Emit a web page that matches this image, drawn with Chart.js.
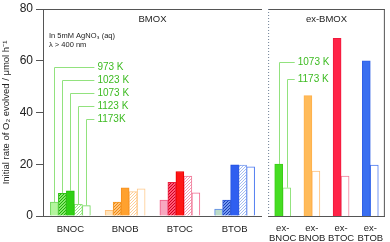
<!DOCTYPE html>
<html lang="en">
<head>
    <meta charset="UTF-8">
    <title>O2 evolution rates</title>
    <script src="https://cdn.jsdelivr.net/npm/chart.js"></script>
    <style>
        body { margin: 0; background: #fff; }
        #wrap { position: relative; width: 390px; height: 242px; }
        #leftChart { position: absolute; left: 0; top: 0; }
        #rightChart { position: absolute; left: 262px; top: 0; }
    </style>
</head>
<body>
    <div id="wrap">
        <canvas id="leftChart" width="262" height="242"></canvas>
        <canvas id="rightChart" width="128" height="242"></canvas>
    </div>

    <script>
        // BMOX samples calcined at five temperatures
        const categories = ['BNOC', 'BNOB', 'BTOC', 'BTOB'];
        const temps = ['973 K', '1023 K', '1073 K', '1123 K', '1173K'];
        const rate973 = [5.4, 2.2, 6.2, 2.7];
        const rate1023 = [8.8, 5.4, 13.0, 6.2];
        const rate1073 = [9.7, 10.9, 17.2, 19.8];
        const rate1123 = [4.5, 9.4, 15.4, 19.7];
        const rate1173 = [4.0, 10.5, 9.0, 19.0];

        // exfoliated samples, two temperatures
        const exCategories = [['ex-', 'BNOC'], ['ex-', 'BNOB'], ['ex-', 'BTOC'], ['ex-', 'BTOB']];
        const exTemps = ['1073 K', '1173 K'];
        const exRate1073 = [20.1, 46.5, 68.7, 60.0];
        const exRate1173 = [10.9, 17.4, 15.4, 19.7];

        const yTicks = [0, 20, 40, 60, 80];

        Chart.defaults.font.family = '"Liberation Sans", Arial, sans-serif';
        Chart.defaults.color = '#222';

        function pattern(kind, fg, bg) {
            const c = document.createElement('canvas');
            c.width = c.height = 3;
            const g = c.getContext('2d');
            g.fillStyle = bg;
            g.fillRect(0, 0, 3, 3);
            g.fillStyle = fg;
            if (kind === 'hatch') {
                g.fillRect(0, 2, 1, 1); g.fillRect(1, 1, 1, 1); g.fillRect(2, 0, 1, 1);
            } else {
                g.fillRect(0, 0, 1, 1); g.fillRect(2, 1, 1, 1); g.fillRect(1, 2, 1, 1);
            }
            return g.createPattern(c, 'repeat');
        }

        // one style per temperature, one colour per compound
        const styles = [
            { bg: ['#b4f59e', '#ffe2b8', '#f7a8c0', '#bcdcc8'], bd: ['#6fd65a', '#ffbf78', '#ee5c86', '#5a88e8'] },
            { bg: [pattern('hatch', '#1fae08', '#86e86c'), pattern('hatch', '#ee8a10', '#ffc27a'), pattern('hatch', '#d00020', '#ff5a78'), pattern('hatch', '#1a3cb4', '#7399f0')],
              bd: ['#2cbf12', '#f5961e', '#e8203c', '#2a55d8'] },
            { bg: ['#2ed012', '#ffa12e', '#ff1515', '#2f5ff0'], bd: ['#22b80a', '#f59020', '#e80000', '#2050e0'] },
            { bg: [pattern('dot', '#9de68a', '#ffffff'), pattern('dot', '#ffcf96', '#ffffff'), pattern('dot', '#f49ab4', '#ffffff'), pattern('dot', '#a4bdf2', '#ffffff')],
              bd: ['#8fe27a', '#ffc888', '#f07a98', '#7a9cf0'] },
            { bg: ['#ffffff', '#ffffff', '#ffffff', '#ffffff'], bd: ['#6fd65a', '#ffc888', '#f06a8e', '#4a78f0'] }
        ];
        const exStyles = [
            { bg: ['#46dd22', '#ffbb5a', '#ff2448', '#3a6ff0'], bd: ['#3ccc18', '#ffb04a', '#f01a3c', '#2f60e6'] },
            { bg: ['#ffffff', '#ffffff', '#ffffff', '#ffffff'], bd: ['#8fe27a', '#ffc07a', '#f0809a', '#4a78f0'] }
        ];

        const leaderLine = '#92e27e';
        const leaderText = '#3dbb22';
        const frame = '#555';

        // leader lines from bars of the first group to the temperature labels
        function leaders(levels, labels) {
            return {
                id: 'leaders',
                afterDatasetsDraw(chart) {
                    const ctx = chart.ctx;
                    const y = chart.scales.y;
                    const n = chart.data.datasets.length;
                    const last = chart.getDatasetMeta(n - 1).data[0];
                    const xEnd = last.x + last.width / 2 + 4;
                    ctx.save();
                    ctx.font = '10px "Liberation Sans", Arial, sans-serif';
                    ctx.textBaseline = 'middle';
                    labels.forEach((t, i) => {
                        const bar = chart.getDatasetMeta(i).data[0];
                        const ly = Math.round(y.getPixelForValue(levels[i])) + 0.5;
                        const lx = Math.round(bar.x) + 0.5;
                        ctx.strokeStyle = leaderLine;
                        ctx.lineWidth = 1;
                        ctx.beginPath();
                        ctx.moveTo(lx, bar.y);
                        ctx.lineTo(lx, ly);
                        ctx.lineTo(xEnd, ly);
                        ctx.stroke();
                        ctx.fillStyle = leaderText;
                        ctx.fillText(t, xEnd + 3, ly);
                    });
                    ctx.restore();
                }
            };
        }

        function header(text, extra) {
            return {
                id: 'header',
                afterDraw(chart) {
                    const ctx = chart.ctx;
                    const a = chart.chartArea;
                    ctx.save();
                    ctx.strokeStyle = frame;
                    ctx.lineWidth = 1;
                    ctx.beginPath();
                    ctx.moveTo(a.left, a.top + 0.5);
                    ctx.lineTo(a.right, a.top + 0.5);
                    ctx.stroke();
                    ctx.fillStyle = '#222';
                    ctx.font = '9.5px "Liberation Sans", Arial, sans-serif';
                    ctx.textAlign = 'center';
                    ctx.textBaseline = 'middle';
                    ctx.fillText(text, (a.left + a.right) / 2, a.top + 10);
                    if (extra) extra(ctx, a);
                    ctx.restore();
                }
            };
        }

        const leftSets = temps.map((t, i) => ({
            label: t,
            data: [rate973, rate1023, rate1073, rate1123, rate1173][i],
            backgroundColor: styles[i].bg,
            borderColor: styles[i].bd,
            borderWidth: 1
        }));

        const left = new Chart(document.getElementById('leftChart'), {
            type: 'bar',
            data: { labels: categories, datasets: leftSets },
            options: {
                responsive: false,
                animation: false,
                barThickness: 8,
                layout: { padding: { top: 0, right: 0, bottom: 0, left: 0 } },
                plugins: { legend: { display: false }, tooltip: { enabled: false } },
                scales: {
                    x: {
                        grid: { display: false, drawTicks: false, tickLength: 0 },
                        border: { color: frame },
                        ticks: { font: { size: 9.5, lineHeight: 1.05 }, padding: 8, maxRotation: 0 },
                        afterFit: s => { s.height = 26; }
                    },
                    y: {
                        min: 0, max: 80,
                        afterBuildTicks: s => { s.ticks = yTicks.map(v => ({ value: v })); },
                        grid: { drawOnChartArea: false, tickLength: 7, color: frame },
                        border: { color: frame },
                        ticks: { font: { size: 12, lineHeight: 1 }, padding: 3, color: '#222' },
                        title: {
                            display: true,
                            text: 'Initial rate of O₂ evolved / μmol h⁻¹',
                            font: { size: 9.5 },
                            padding: 1
                        },
                        afterFit: s => { s.width = 43; }
                    }
                }
            },
            plugins: [
                leaders([57.5, 52.5, 47.5, 42.5, 37.5], temps),
                header('BMOX', (ctx, a) => {
                    ctx.font = '7.5px "Liberation Sans", Arial, sans-serif';
                    ctx.textAlign = 'left';
                    ctx.fillText('In 5mM AgNO₃ (aq)', a.left + 6, a.top + 27);
                    ctx.fillText('λ > 400 nm', a.left + 6, a.top + 36);
                })
            ]
        });

        const rightSets = exTemps.map((t, i) => ({
            label: t,
            data: [exRate1073, exRate1173][i],
            backgroundColor: exStyles[i].bg,
            borderColor: exStyles[i].bd,
            borderWidth: 1
        }));

        new Chart(document.getElementById('rightChart'), {
            type: 'bar',
            data: { labels: exCategories, datasets: rightSets },
            options: {
                responsive: false,
                animation: false,
                barThickness: 8,
                layout: { padding: { top: left.chartArea.top, right: 5, bottom: 0, left: 0 } },
                plugins: { legend: { display: false }, tooltip: { enabled: false } },
                scales: {
                    x: {
                        grid: { display: false, drawTicks: false, tickLength: 0 },
                        border: { color: frame },
                        ticks: { font: { size: 9.5, lineHeight: 1.05 }, padding: 7, maxRotation: 0 },
                        afterFit: s => { s.height = 26; }
                    },
                    y: { display: false, min: 0, max: 80 }
                }
            },
            plugins: [
                leaders([59.5, 53], exTemps),
                header('ex-BMOX', (ctx, a) => {
                    ctx.strokeStyle = frame;
                    ctx.beginPath();
                    ctx.moveTo(a.right - 0.5, a.top);
                    ctx.lineTo(a.right - 0.5, a.bottom);
                    ctx.stroke();
                    ctx.strokeStyle = '#6f7f96';
                    ctx.setLineDash([1, 2]);
                    ctx.beginPath();
                    ctx.moveTo(a.left + 0.5, a.top);
                    ctx.lineTo(a.left + 0.5, a.bottom);
                    ctx.stroke();
                })
            ]
        });
    </script>
</body>
</html>
